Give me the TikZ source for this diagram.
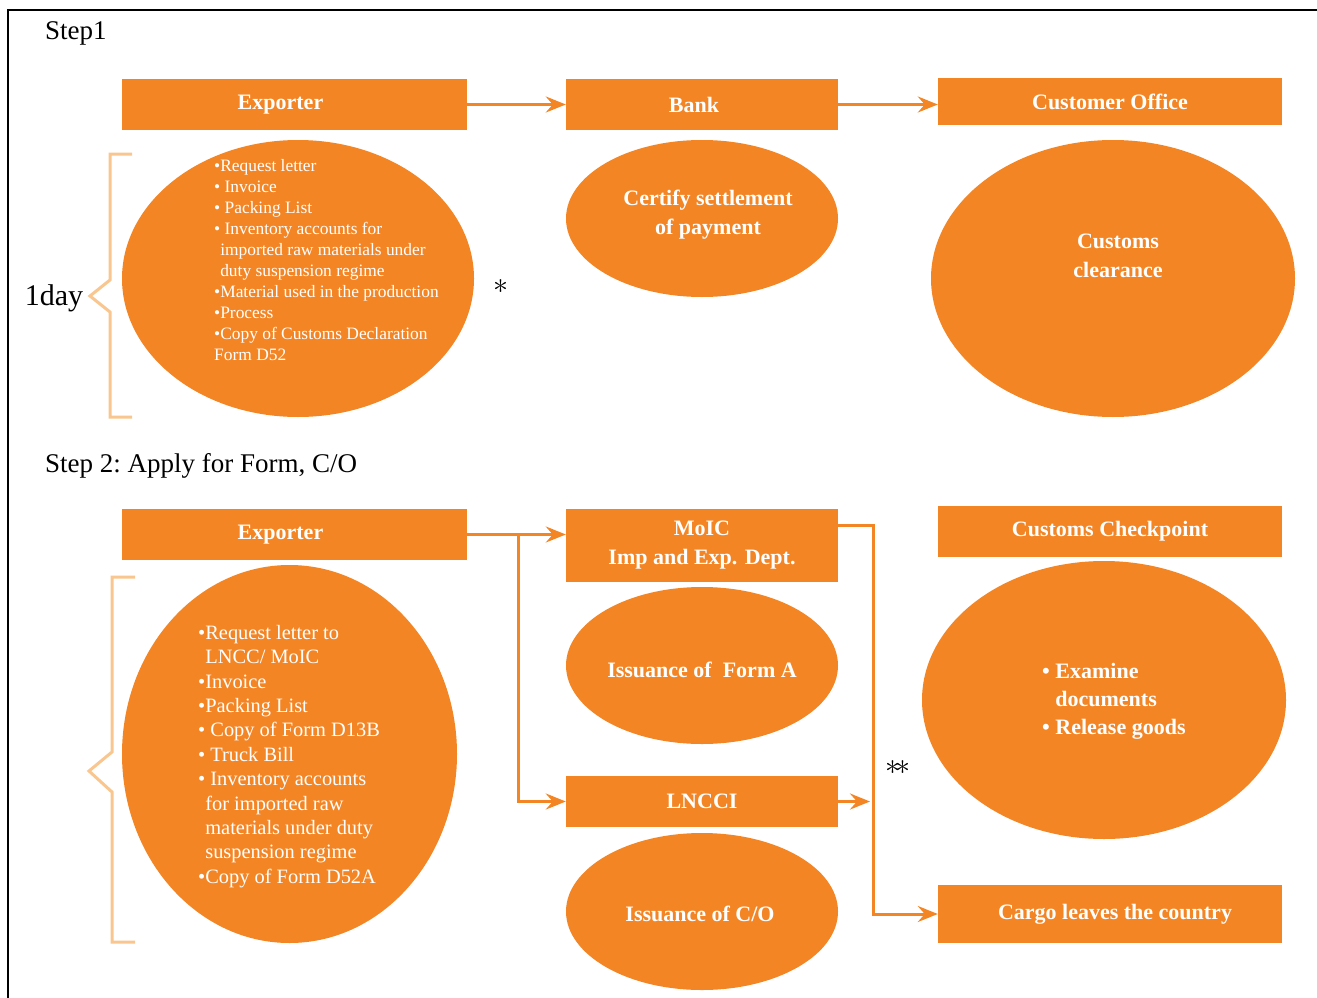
\documentclass[tikz,border=0pt]{standalone}
\usepackage{fontspec}
\setmainfont{Liberation Serif}
\usepackage{graphicx}
\usepackage{tikz}
\usetikzlibrary{positioning,shapes,arrows.meta}
\definecolor{orng}{RGB}{243,133,37}
\definecolor{bracecol}{RGB}{248,198,142}
\tikzset{
        flow/.style={->, >={Stealth[length=20pt,width=16pt,inset=7pt]}, draw=orng, line width=3pt}, % orange arrows between the boxes
        hdrbox/.style={rectangle, fill=orng, text=white, inner sep=0pt, align=center, font=\bfseries\fontsize{22}{29}\selectfont}, % header boxes
        blob/.style={ellipse, fill=orng, inner sep=0pt}, % big orange ellipses
        blobtext/.style={text=white, inner sep=0pt, align=center, font=\bfseries\fontsize{22}{29}\selectfont}, % bold text inside ellipses
        listtext/.style={text=white, inner sep=0pt, align=left, anchor=north west}, % bullet lists
        daybrace/.style={draw=bracecol, line width=3pt}, % the light brackets on the left
        steplabel/.style={anchor=west, inner sep=0pt, font=\fontsize{27}{32}\selectfont},
        starmark/.style={inner sep=0pt},
}

\begin{document}
\begin{tikzpicture}[x=1pt, y=-1pt]
\useasboundingbox (0,0) rectangle (1317,998);
\draw[line width=1.5pt] (1317,10) -- (8,10) -- (8,998);

% Step 1
\node[steplabel] (step1) at (45,33) {Step1};
\node[hdrbox, minimum width=345pt, minimum height=51pt] (exp1) at (294.5,104.5) {Exporter\hspace*{28pt}};
\node[hdrbox, minimum width=272pt, minimum height=51pt] (bank) at (702,104.5) {Bank\hspace*{16pt}};
\node[hdrbox, minimum width=344pt, minimum height=47pt] (custoff) at (1110,101.5) {Customer Office};
\node[blob, minimum width=352pt, minimum height=277pt] (docs1) at (298,278.5) {};
\node[listtext, font=\fontsize{17.4}{21}\selectfont] (list1) at (214,159) {\textbullet Request letter\\
\textbullet\ Invoice\\
\textbullet\ Packing List\\
\textbullet\ Inventory accounts for\\
\phantom{\textbullet}imported raw materials under\\
\phantom{\textbullet}duty suspension regime\\
\textbullet Material used in the production\\
\textbullet Process\\
\textbullet Copy of Customs Declaration\\
Form D52};
\node[blob, minimum width=272pt, minimum height=157pt] (settle) at (702,218.5) {};
\node[blobtext] (settletxt) at (708,215) {Certify settlement\\of payment};
\node[blob, minimum width=364pt, minimum height=277pt] (clear) at (1113,278.5) {};
\node[blobtext] (cleartxt) at (1118,256) {Customs\\clearance};
\node[starmark] (star1) at (501,287) {\scalebox{3}{$\ast$}};
\node[font=\fontsize{30}{34}\selectfont, inner sep=0pt] (day) at (54,298) {1day};
\draw[daybrace] (132,154) -- (110,154) -- (110,280) -- (90,296) -- (110,312) -- (110,417) -- (132,417);
\draw[flow] (exp1) -- (bank);
\draw[flow] (bank.east) -- (bank.east -| custoff.west);

% Step 2
\node[steplabel] (step2) at (45,466) {Step 2:\ Apply for Form, C/O};
\node[hdrbox, minimum width=345pt, minimum height=51pt] (exp2) at (294.5,534.5) {Exporter\hspace*{28pt}};
\node[hdrbox, minimum width=272pt, minimum height=73pt] (moic) at (702,545.5) {MoIC\\Imp and Exp. Dept.};
\node[hdrbox, minimum width=344pt, minimum height=51pt] (checkpt) at (1110,531.5) {Customs Checkpoint};
\node[blob, minimum width=272pt, minimum height=157pt] (forma) at (702,665.5) {};
\node[blobtext] (formatxt) at (702,670) {Issuance of\ \ Form A};
\node[hdrbox, minimum width=272pt, minimum height=51pt] (lncci) at (702,801.5) {LNCCI};
\node[blob, minimum width=272pt, minimum height=157pt] (co) at (702,911.5) {};
\node[blobtext] (cotxt) at (700,914) {Issuance of C/O};
\node[hdrbox, minimum width=344pt, minimum height=58pt] (cargo) at (1110,914) {\hspace*{10pt}Cargo leaves the country};
\node[blob, minimum width=335pt, minimum height=378pt] (docs2) at (289.5,754) {};
\node[listtext, font=\fontsize{20.4}{24.4}\selectfont] (list2) at (198,625) {\textbullet Request letter to\\
\phantom{\textbullet}LNCC/ MoIC\\
\textbullet Invoice\\
\textbullet Packing List\\
\textbullet\ Copy of Form D13B\\
\textbullet\ Truck Bill\\
\textbullet\ Inventory accounts\\
\phantom{\textbullet}for imported raw\\
\phantom{\textbullet}materials under duty\\
\phantom{\textbullet}suspension regime\\
\textbullet Copy of Form D52A};
\node[blob, minimum width=364pt, minimum height=278pt] (exam) at (1104,700) {};
\node[listtext, font=\bfseries\fontsize{22}{28}\selectfont] (examtxt) at (1042,663) {\textbullet\ Examine\\
\phantom{\textbullet\ }documents\\
\textbullet\ Release goods};
\node[starmark] (star2) at (898,768) {\scalebox{3}{$\ast\!\ast$}};
\draw[daybrace] (135,577) -- (112,577) -- (112,752) -- (89,771) -- (112,792) -- (112,942) -- (135,942);
\coordinate (split) at (518,534.5);
\coordinate (rail) at (873,0);
\draw[flow] (exp2.east) -- (exp2.east -| moic.west);
\draw[flow] (split) |- (lncci.west);
\draw[flow] ([yshift=-17pt]moic.north east) -| (rail |- cargo.west) -- (cargo.west);
\draw[flow, shorten >=3pt] (lncci.east) -- (rail |- lncci.east);
\end{tikzpicture}
\end{document}
